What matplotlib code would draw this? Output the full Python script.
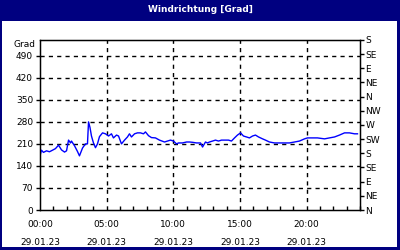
import matplotlib
matplotlib.use("Agg")
import matplotlib.pyplot as plt
from matplotlib.patches import Rectangle

title = "Windrichtung [Grad]"
y_label = "Grad"
date_label = "29.01.23"

hours = [0.00, 0.11, 0.26, 0.49, 0.71, 0.94, 1.16, 1.39, 1.61, 1.84, 1.99, 2.14,
         2.29, 2.36, 2.59, 2.81, 2.96, 3.19, 3.41, 3.56, 3.64, 3.75, 3.86, 4.01,
         4.16, 4.31, 4.46, 4.69, 4.91, 5.14, 5.36, 5.51, 5.74, 5.89, 6.11, 6.34,
         6.56, 6.71, 6.86, 7.09, 7.31, 7.54, 7.76, 7.91, 8.14, 8.36, 8.66, 8.96,
         9.34, 9.56, 9.79, 10.01, 10.24, 10.39, 10.69, 10.99, 11.21, 11.44, 11.74,
         12.04, 12.19, 12.41, 12.56, 12.71, 12.94, 13.16, 13.39, 13.61, 13.91,
         14.14, 14.36, 14.59, 14.81, 15.04, 15.26, 15.49, 15.71, 15.94, 16.16,
         16.39, 16.69, 16.91, 17.21, 17.59, 17.96, 18.34, 18.71, 19.09, 19.46,
         19.84, 20.06, 20.36, 20.81, 21.34, 21.71, 22.09, 22.46, 22.84, 23.21,
         23.59, 23.81]
direction = [172, 190, 183, 188, 185, 190, 195, 206, 191, 184, 188, 222,
             213, 219, 204, 186, 172, 197, 210, 210, 280, 262, 235, 213,
             198, 210, 233, 245, 242, 235, 242, 229, 238, 235, 210, 222,
             232, 242, 232, 242, 245, 245, 242, 248, 236, 230, 229, 222,
             216, 219, 222, 219, 210, 213, 213, 216, 216, 215, 213,
             213, 200, 216, 213, 216, 219, 222, 219, 222, 222,
             222, 219, 229, 238, 245, 235, 232, 229, 235, 238,
             232, 226, 222, 216, 213, 213, 213, 213, 216, 219,
             226, 229, 229, 229, 226, 229, 232, 238, 245, 245,
             242, 242]

left_ticks = [0, 70, 140, 210, 280, 350, 420, 490]
right_ticks = [0, 45, 90, 135, 180, 225, 270, 315, 360, 405, 450, 495, 540]
right_labels = ["N", "NE", "E", "SE", "S", "SW", "W", "NW", "N", "NE", "E", "SE", "S"]
x_major = [0, 5, 10, 15, 20]
x_major_labels = ["00:00", "05:00", "10:00", "15:00", "20:00"]

navy = "#000080"
fs = 6.5
fig = plt.figure(figsize=(4, 2.5), dpi=100, facecolor=navy)
fig.patches.append(Rectangle((2/400, 3/250), 395/400, 226/250, transform=fig.transFigure,
                             facecolor="white", edgecolor="none", zorder=-5))
fig.text(0.5, 1 - 10/250, title, color="white", fontsize=6.5, fontweight="bold",
         ha="center", va="center")

ax = fig.add_axes([40/400, 1 - 210/250, 320/400, 170/250])
ax.set_zorder(2)
ax.set_facecolor("none")
ax.plot(hours, direction, color="#0000FF", linewidth=1, zorder=3)
ax.set_xlim(0, 24)
ax.set_ylim(0, 540)

ax.set_yticks(left_ticks)
ax.set_yticklabels([str(v) for v in left_ticks], fontsize=fs)
ax.tick_params(axis="y", direction="out", length=3, width=1, pad=2, colors="black")
ax.set_xticks(x_major)
ax.set_xticklabels([f"{t}\n\n{date_label}" for t in x_major_labels], fontsize=fs, linespacing=1.0)
ax.set_xticks(range(0, 25), minor=True)
ax.tick_params(axis="x", which="both", direction="in", length=3, width=1, pad=7)
ax.tick_params(axis="x", which="major", length=0)

for v in left_ticks[1:]:
    ax.axhline(v, color="black", linewidth=1, linestyle=(0, (3, 3)), zorder=1)
for v in x_major[1:]:
    ax.axvline(v, color="black", linewidth=1, linestyle=(0, (3, 3)), zorder=1)

for s in ax.spines.values():
    s.set_linewidth(1)
    s.set_color("black")

ax2 = ax.twinx()
ax2.set_ylim(0, 540)
ax2.set_yticks(right_ticks)
ax2.set_yticklabels(right_labels, fontsize=fs)
ax2.tick_params(axis="y", direction="out", length=3, width=1, pad=1)

fig.text(36/400, 1 - 45/250, y_label, fontsize=fs, ha="right", va="center")

fig.savefig("out.png", dpi=100, facecolor=navy)
